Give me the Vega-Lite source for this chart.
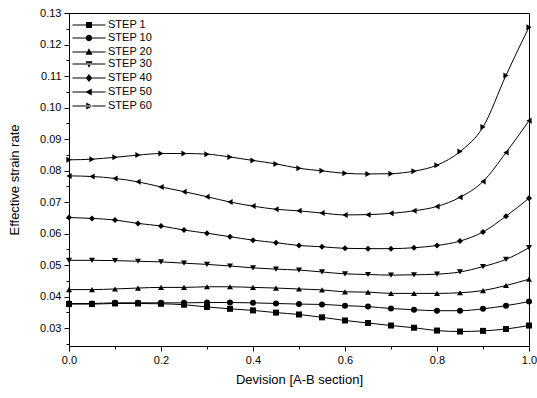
{
  "$schema": "https://vega.github.io/schema/vega-lite/v6.json",
  "width": 460,
  "height": 333,
  "autosize": {"type": "none"},
  "padding": {"left": 69, "top": 13, "right": 8, "bottom": 52},
  "background": "white",
  "config": {
    "view": {"stroke": "#000", "strokeWidth": 1},
    "font": "Liberation Sans",
    "axis": {
      "domainColor": "#000", "tickColor": "#000", "labelColor": "#000", "titleColor": "#000",
      "labelFont": "Liberation Sans", "titleFont": "Liberation Sans",
      "labelFontSize": 11, "titleFontSize": 13, "titleFontWeight": "normal", "grid": false
    },
    "legend": {"labelFont": "Liberation Sans", "labelFontSize": 11, "labelColor": "#000"}
  },
  "data": {"values": [
    {"x": 0.00, "STEP 1": 0.0376, "STEP 10": 0.0378, "STEP 20": 0.0422, "STEP 30": 0.0515, "STEP 40": 0.0651, "STEP 50": 0.0783, "STEP 60": 0.0834},
    {"x": 0.05, "STEP 1": 0.0376, "STEP 10": 0.0378, "STEP 20": 0.0422, "STEP 30": 0.0515, "STEP 40": 0.0648, "STEP 50": 0.0781, "STEP 60": 0.0836},
    {"x": 0.10, "STEP 1": 0.0378, "STEP 10": 0.0380, "STEP 20": 0.0424, "STEP 30": 0.0514, "STEP 40": 0.0643, "STEP 50": 0.0775, "STEP 60": 0.0842},
    {"x": 0.15, "STEP 1": 0.0378, "STEP 10": 0.0380, "STEP 20": 0.0427, "STEP 30": 0.0512, "STEP 40": 0.0632, "STEP 50": 0.0764, "STEP 60": 0.0849},
    {"x": 0.20, "STEP 1": 0.0377, "STEP 10": 0.0380, "STEP 20": 0.0429, "STEP 30": 0.0510, "STEP 40": 0.0624, "STEP 50": 0.0748, "STEP 60": 0.0854},
    {"x": 0.25, "STEP 1": 0.0374, "STEP 10": 0.0380, "STEP 20": 0.0429, "STEP 30": 0.0506, "STEP 40": 0.0611, "STEP 50": 0.0733, "STEP 60": 0.0854},
    {"x": 0.30, "STEP 1": 0.0367, "STEP 10": 0.0381, "STEP 20": 0.0431, "STEP 30": 0.0502, "STEP 40": 0.0601, "STEP 50": 0.0717, "STEP 60": 0.0852},
    {"x": 0.35, "STEP 1": 0.0361, "STEP 10": 0.0381, "STEP 20": 0.0431, "STEP 30": 0.0497, "STEP 40": 0.0590, "STEP 50": 0.0700, "STEP 60": 0.0843},
    {"x": 0.40, "STEP 1": 0.0356, "STEP 10": 0.0380, "STEP 20": 0.0429, "STEP 30": 0.0491, "STEP 40": 0.0579, "STEP 50": 0.0687, "STEP 60": 0.0832},
    {"x": 0.45, "STEP 1": 0.0349, "STEP 10": 0.0378, "STEP 20": 0.0427, "STEP 30": 0.0487, "STEP 40": 0.0571, "STEP 50": 0.0677, "STEP 60": 0.0821},
    {"x": 0.50, "STEP 1": 0.0343, "STEP 10": 0.0376, "STEP 20": 0.0424, "STEP 30": 0.0484, "STEP 40": 0.0562, "STEP 50": 0.0672, "STEP 60": 0.0807},
    {"x": 0.55, "STEP 1": 0.0334, "STEP 10": 0.0375, "STEP 20": 0.0421, "STEP 30": 0.0478, "STEP 40": 0.0558, "STEP 50": 0.0665, "STEP 60": 0.0799},
    {"x": 0.60, "STEP 1": 0.0324, "STEP 10": 0.0371, "STEP 20": 0.0415, "STEP 30": 0.0472, "STEP 40": 0.0553, "STEP 50": 0.0659, "STEP 60": 0.0791},
    {"x": 0.65, "STEP 1": 0.0316, "STEP 10": 0.0368, "STEP 20": 0.0414, "STEP 30": 0.0470, "STEP 40": 0.0552, "STEP 50": 0.0660, "STEP 60": 0.0789},
    {"x": 0.70, "STEP 1": 0.0308, "STEP 10": 0.0362, "STEP 20": 0.0410, "STEP 30": 0.0468, "STEP 40": 0.0552, "STEP 50": 0.0664, "STEP 60": 0.0790},
    {"x": 0.75, "STEP 1": 0.0301, "STEP 10": 0.0358, "STEP 20": 0.0410, "STEP 30": 0.0469, "STEP 40": 0.0555, "STEP 50": 0.0672, "STEP 60": 0.0798},
    {"x": 0.80, "STEP 1": 0.0292, "STEP 10": 0.0355, "STEP 20": 0.0410, "STEP 30": 0.0471, "STEP 40": 0.0562, "STEP 50": 0.0686, "STEP 60": 0.0817},
    {"x": 0.85, "STEP 1": 0.0289, "STEP 10": 0.0355, "STEP 20": 0.0412, "STEP 30": 0.0478, "STEP 40": 0.0576, "STEP 50": 0.0715, "STEP 60": 0.0860},
    {"x": 0.90, "STEP 1": 0.0291, "STEP 10": 0.0361, "STEP 20": 0.0419, "STEP 30": 0.0495, "STEP 40": 0.0605, "STEP 50": 0.0765, "STEP 60": 0.0938},
    {"x": 0.95, "STEP 1": 0.0297, "STEP 10": 0.0371, "STEP 20": 0.0435, "STEP 30": 0.0518, "STEP 40": 0.0655, "STEP 50": 0.0857, "STEP 60": 0.1102},
    {"x": 1.00, "STEP 1": 0.0308, "STEP 10": 0.0384, "STEP 20": 0.0455, "STEP 30": 0.0555, "STEP 40": 0.0712, "STEP 50": 0.0958, "STEP 60": 0.1255}
  ]},
  "transform": [
    {"fold": ["STEP 1", "STEP 10", "STEP 20", "STEP 30", "STEP 40", "STEP 50", "STEP 60"], "as": ["series", "value"]}
  ],
  "encoding": {
    "x": {
      "field": "x", "type": "quantitative",
      "scale": {"domain": [0, 1], "nice": false, "zero": false},
      "axis": {
        "title": "Devision [A-B section]",
        "values": [0, 0.1, 0.2, 0.3, 0.4, 0.5, 0.6, 0.7, 0.8, 0.9, 1.0],
        "labelExpr": "round(datum.value*10) % 2 == 0 ? format(datum.value, '.1f') : ''",
        "tickSize": {"condition": {"test": "round(datum.value*10) % 2 == 0", "value": 5}, "value": 3},
        "labelPadding": 3,
        "titlePadding": 8,
        "labelFlush": false
      }
    },
    "y": {
      "field": "value", "type": "quantitative",
      "scale": {"domain": [0.0243, 0.13], "nice": false, "zero": false},
      "axis": {
        "title": "Effective strain rate",
        "values": [0.025, 0.03, 0.035, 0.04, 0.045, 0.05, 0.055, 0.06, 0.065, 0.07, 0.075, 0.08, 0.085, 0.09, 0.095, 0.1, 0.105, 0.11, 0.115, 0.12, 0.125, 0.13],
        "labelExpr": "round(datum.value*200) % 2 == 0 ? format(datum.value, '.2f') : ''",
        "tickSize": {"condition": {"test": "round(datum.value*200) % 2 == 0", "value": 5}, "value": 3},
        "labelPadding": 3,
        "titlePadding": 18,
        "labelFlush": false
      }
    }
  },
  "layer": [
    {
      "mark": {"type": "line", "interpolate": "monotone", "color": "#000", "strokeWidth": 1},
      "encoding": {"detail": {"field": "series"}}
    },
    {
      "mark": {"type": "point", "filled": true, "color": "#000", "opacity": 0, "size": 100},
      "encoding": {
        "shape": {
          "field": "series", "type": "nominal",
          "scale": {
            "domain": ["STEP 1", "STEP 10", "STEP 20", "STEP 30", "STEP 40", "STEP 50", "STEP 60"],
            "range": [
              "M-3.3,-0.1H3.3V0.1H-3.3ZM-0.6,-0.6H0.6V0.6H-0.6Z",
              "M-3.3,-0.1H3.3V0.1H-3.3ZM0.65,0A0.65,0.65 0 1,1 -0.65,0A0.65,0.65 0 1,1 0.65,0Z",
              "M-3.3,-0.1H3.3V0.1H-3.3ZM0,-0.75L0.7,0.55H-0.7Z",
              "M-3.3,-0.1H3.3V0.1H-3.3ZM0,0.75L0.7,-0.55H-0.7Z",
              "M-3.3,-0.1H3.3V0.1H-3.3ZM0,-0.8L0.65,0L0,0.8L-0.65,0Z",
              "M-3.3,-0.1H3.3V0.1H-3.3ZM-0.75,0L0.55,-0.7V0.7Z",
              "M-3.3,-0.1H3.3V0.1H-3.3ZM0.75,0L-0.55,-0.7V0.7Z"
            ]
          },
          "legend": {
            "title": null,
            "orient": "none",
            "legendX": 14,
            "legendY": 6,
            "padding": 0,
            "symbolSize": 100,
            "rowPadding": 0,
            "labelOffset": 13,
            "symbolOpacity": 1,
            "symbolFillColor": "#000"
          }
        }
      }
    },
    {
      "mark": {"type": "point", "filled": true, "color": "#000", "opacity": 1, "size": 36},
      "encoding": {
        "shape": {
          "field": "series", "type": "nominal",
          "scale": {
            "domain": ["STEP 1", "STEP 10", "STEP 20", "STEP 30", "STEP 40", "STEP 50", "STEP 60"],
            "range": ["square", "circle", "triangle-up", "triangle-down", "diamond", "triangle-left", "triangle-right"]
          },
          "legend": null
        }
      }
    }
  ],
  "resolve": {"scale": {"shape": "independent"}}
}
